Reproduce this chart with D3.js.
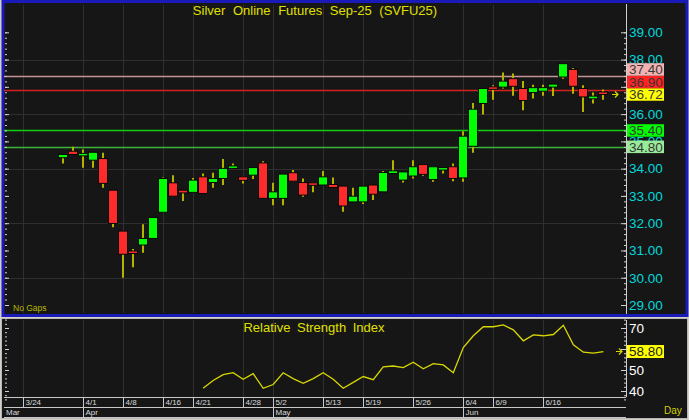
<!DOCTYPE html>
<html>
<head>
<meta charset="utf-8">
<script src="https://cdn.jsdelivr.net/npm/d3@7/dist/d3.min.js"></script>
<style>
  body { margin: 0; background: #d4d0c8; }
  svg { display: block; font-family: "Liberation Sans", Arial, sans-serif; }
</style>
</head>
<body>
<script>
// bars are numbered by session slot on the axis; slots 0-3 have no trading
var firstBar = 4;
var opens  = [34.40,34.64,34.48,34.31,34.37,33.21,31.71,30.98,31.20,31.44,32.40,33.48,33.21,33.13,33.70,33.49,33.64,34.01,33.70,33.76,34.21,32.91,32.91,33.85,33.49,33.48,33.40,33.42,33.36,32.78,32.78,33.40,33.15,33.82,33.58,33.73,34.15,33.60,33.95,34.07,33.66,34.82,36.39,37.00,36.99,37.30,36.94,36.79,36.84,36.99,37.36,37.64,36.94,36.56,36.81];
var highs  = [34.52,34.80,34.70,34.60,34.58,33.21,31.71,31.05,31.96,32.21,33.68,33.76,33.21,33.66,33.82,33.85,34.35,34.19,33.70,34.04,34.27,33.48,33.80,33.95,33.64,33.48,33.91,33.68,33.36,33.30,33.36,33.40,33.91,34.31,33.88,34.31,34.15,34.07,34.04,34.19,35.37,36.41,36.94,37.06,37.53,37.49,37.21,37.08,37.08,37.10,37.85,37.69,37.06,36.79,36.90];
var lows   = [34.19,34.52,34.03,34.03,33.30,31.85,30.00,30.38,30.92,31.42,32.40,32.99,32.81,33.13,33.09,33.30,33.40,34.01,33.46,33.62,32.91,32.66,32.66,33.54,32.97,33.13,33.40,33.31,32.42,32.78,32.70,32.85,33.15,33.82,33.49,33.64,33.74,33.52,33.82,33.54,33.52,34.58,35.99,36.53,36.94,36.67,36.14,36.57,36.67,36.66,37.30,36.75,36.08,36.39,36.53];
var closes = [34.52,34.52,34.56,34.60,33.46,31.99,30.86,30.92,31.44,32.21,33.64,32.99,33.11,33.58,33.09,33.64,34.01,34.10,33.57,34.04,32.91,33.15,33.80,33.54,33.03,33.40,33.70,33.31,32.63,32.99,33.36,33.06,33.86,33.92,33.88,34.07,33.79,34.07,34.04,33.64,35.19,36.18,36.94,36.94,37.21,37.02,36.50,36.97,36.97,37.10,37.85,37.02,36.63,36.66,36.72];

// RSI line, from slot 18
var rsiFirstBar = 18;
var rsiValues = [41.3,45.0,47.8,48.7,45.6,48.3,41.3,43.1,48.7,45.9,43.7,45.9,48.7,45.6,41.3,44.1,46.9,45.4,51.5,51.9,51.1,53.7,50.6,53.0,52.4,48.7,60.7,66.3,70.6,70.6,71.5,69.1,63.9,66.7,66.3,66.9,71.3,62.0,58.5,58.0,58.8];

// horizontal price lines
var levelValues = [37.40, 36.90, 36.72, 35.40, 34.80];
var levelLine   = ["#c49494", "#d42222", null, "#10d010", "#3cb43c"];
var levelBox    = ["#f2b2b2", "#ff2222", "#ffff00", "#00ff00", "#98ec98"];

// axis labels (37.00 and 60 sit fully under the value boxes, so they are not shown)
var dayTicks    = ["3/24","4/1","4/8","4/16","4/21","4/28","5/2","5/13","5/19","5/26","6/4","6/9","6/16"];
var dayTickBars = [0, 6, 10, 14, 17, 22, 25, 30, 34, 39, 44, 47, 52];
var monthNames  = ["Mar","Apr","May","Jun"];
var monthBars   = [null, 6, 25, 44];
var priceTicks  = [29,30,31,32,33,34,35,36,37,38,39];
var priceLabels = [29,30,31,32,33,34,35,36,38,39];
var rsiTicks    = [40,50,60,70];
var rsiLabels   = [40,50,70];

var width = 689, height = 420;
var plotLeft = 4, plotRight = 626;

var svg = d3.select("body")
  .append("svg")
    .attr("width", width)
    .attr("height", height);

svg.append("rect").attr("width", width).attr("height", height).attr("fill", "#d4d0c8");

// panels
svg.append("rect")
  .attr("x", 3).attr("y", 1.5).attr("width", 684).attr("height", 314)
  .attr("fill", "#161616").attr("stroke", "#1a1ab8").attr("stroke-width", 3);
svg.append("rect")
  .attr("x", 1.5).attr("y", 318.5).attr("width", 686).attr("height", 100)
  .attr("fill", "#161616").attr("stroke", "#b8b8b8").attr("stroke-width", 1);

var x = d3.scaleLinear().domain([-1.9, 60.26]).range([plotLeft, plotRight]);
var y = d3.scaleLinear().domain([29, 39]).range([305, 32.3]);
var yR = d3.scaleLinear().domain([40, 70]).range([391, 328]);

// grid
var grid = svg.append("g").attr("stroke", "#2f2f2f").attr("stroke-width", 1);
dayTickBars.forEach(function(b) {
  var gx = Math.round(x(b)) + 0.5;
  grid.append("line").attr("x1", gx).attr("x2", gx).attr("y1", 5).attr("y2", 313);
  grid.append("line").attr("x1", gx).attr("x2", gx).attr("y1", 320).attr("y2", 397);
});
[30, 32, 34, 36, 38].forEach(function(v) {
  var gy = Math.round(y(v)) + 0.5;
  grid.append("line").attr("x1", plotLeft).attr("x2", plotRight).attr("y1", gy).attr("y2", gy);
});

// level lines
levelValues.forEach(function(v, i) {
  if (!levelLine[i]) return;
  var ly = Math.round(y(v)) + 0.5;
  svg.append("line")
    .attr("x1", plotLeft).attr("x2", plotRight).attr("y1", ly).attr("y2", ly)
    .attr("stroke", levelLine[i]).attr("stroke-width", 1.4);
});

// candles
var candles = opens.map(function(o, i) {
  return {bar: firstBar + i, o: o, h: highs[i], l: lows[i], c: closes[i]};
});
var cg = svg.append("g");
cg.selectAll("line.wick")
  .data(candles).enter()
  .append("line")
    .attr("class", "wick")
    .attr("x1", function(d) { return Math.round(x(d.bar)); })
    .attr("x2", function(d) { return Math.round(x(d.bar)); })
    .attr("y1", function(d) { return y(d.h); })
    .attr("y2", function(d) { return y(d.l); })
    .attr("stroke", "#b4b400")
    .attr("stroke-width", 2);
cg.selectAll("rect.body")
  .data(candles).enter()
  .append("rect")
    .attr("class", "body")
    .attr("x", function(d) { return Math.round(x(d.bar)) - 4.5; })
    .attr("y", function(d) { return y(Math.max(d.o, d.c)); })
    .attr("width", 9)
    .attr("height", function(d) { return Math.max(2.5, Math.abs(y(d.o) - y(d.c))); })
    .attr("fill", function(d) { return d.c >= d.o ? "#00ff00" : "#ff2a2a"; })
    .attr("stroke", "#080808")
    .attr("stroke-width", 1);

// last price marker
var lastY = y(closes[closes.length - 1]);
svg.append("path")
  .attr("d", "M612," + lastY + "h6m-3,-3l3,3l-3,3")
  .attr("stroke", "#d8d800").attr("fill", "none").attr("stroke-width", 1.2);

// price axis
function tickAxis(g, axis) {
  g.call(axis);
  g.select(".domain").remove();
  g.selectAll("line").attr("stroke", "#d0d0d0");
}
var pa = svg.append("g").attr("transform", "translate(" + plotRight + ",0)");
tickAxis(pa.append("g"), d3.axisLeft(y).tickValues(d3.range(29, 39.001, 0.2)).tickSize(2).tickFormat(""));
tickAxis(pa.append("g"), d3.axisLeft(y).tickValues(priceTicks).tickSize(5).tickFormat(""));
var la = svg.append("g").attr("transform", "translate(5,0)");
tickAxis(la.append("g"), d3.axisRight(y).tickValues(d3.range(29, 39.001, 0.2)).tickSize(2).tickFormat(""));
tickAxis(la.append("g"), d3.axisRight(y).tickValues(priceTicks).tickSize(4).tickFormat(""));
svg.append("line").attr("x1", plotRight + 0.5).attr("x2", plotRight + 0.5).attr("y1", 4).attr("y2", 314)
  .attr("stroke", "#d0d0d0");

var labels = svg.append("g").attr("transform", "translate(" + plotRight + ",0)")
  .call(d3.axisRight(y).tickValues(priceLabels).tickSize(0).tickPadding(3).tickFormat(d3.format(".2f")));
labels.select(".domain").remove();
labels.selectAll("text").attr("fill", "#00d8dc").style("font-size", "13.5px")
  .style("font-family", "'Liberation Sans', Arial, sans-serif");

// level boxes, stacked upward so they don't overlap
var boxH = 12.5;
var order = levelValues.map(function(v, i) { return i; }).sort(function(a, b) { return levelValues[a] - levelValues[b]; });
var prevTop = Infinity;
order.forEach(function(i) {
  var cy = y(levelValues[i]);
  if (cy + boxH / 2 > prevTop) cy = prevTop - boxH / 2;
  prevTop = cy - boxH / 2;
  svg.append("rect")
    .attr("x", 627).attr("y", cy - boxH / 2).attr("width", 37).attr("height", boxH)
    .attr("fill", levelBox[i]);
  svg.append("text")
    .attr("x", 629).attr("y", cy).attr("dy", "0.36em")
    .attr("fill", "#383838").style("font-size", "13.5px")
    .text(levelValues[i].toFixed(2));
});

// titles
svg.append("text")
  .attr("x", 315).attr("y", 15).attr("text-anchor", "middle")
  .attr("fill", "#e0e000").style("font-size", "13px").style("word-spacing", "4px")
  .text("Silver Online Futures Sep-25 (SVFU25)");
svg.append("text")
  .attr("x", 13).attr("y", 311)
  .attr("fill", "#b8b800").style("font-size", "8.5px")
  .text("No Gaps");

// RSI panel
svg.append("text")
  .attr("x", 314).attr("y", 332).attr("text-anchor", "middle")
  .attr("fill", "#e0e000").style("font-size", "13px").style("word-spacing", "3px")
  .text("Relative Strength Index");

var rsiLine = d3.line()
  .x(function(d, i) { return x(rsiFirstBar + i); })
  .y(function(d) { return yR(d); });
svg.append("path")
  .datum(rsiValues)
  .attr("d", rsiLine)
  .attr("fill", "none")
  .attr("stroke", "#d8d800")
  .attr("stroke-width", 1.3);

var ra = svg.append("g").attr("transform", "translate(" + plotRight + ",0)");
tickAxis(ra.append("g"), d3.axisLeft(yR).tickValues(d3.range(36, 74.01, 2)).tickSize(2).tickFormat(""));
tickAxis(ra.append("g"), d3.axisLeft(yR).tickValues(rsiTicks).tickSize(5).tickFormat(""));
var rl = svg.append("g").attr("transform", "translate(5,0)");
tickAxis(rl.append("g"), d3.axisRight(yR).tickValues(d3.range(36, 74.01, 2)).tickSize(2).tickFormat(""));
tickAxis(rl.append("g"), d3.axisRight(yR).tickValues(rsiTicks).tickSize(4).tickFormat(""));
svg.append("line").attr("x1", plotRight + 0.5).attr("x2", plotRight + 0.5).attr("y1", 320).attr("y2", 397)
  .attr("stroke", "#d0d0d0");

var rlab = svg.append("g").attr("transform", "translate(" + plotRight + ",0)")
  .call(d3.axisRight(yR).tickValues(rsiLabels).tickSize(0).tickPadding(3));
rlab.select(".domain").remove();
rlab.selectAll("text").attr("fill", "#ffffff").style("font-size", "13.5px")
  .style("font-family", "'Liberation Sans', Arial, sans-serif");

var lastR = yR(rsiValues[rsiValues.length - 1]);
svg.append("rect").attr("x", 627).attr("y", lastR - 6.5).attr("width", 37).attr("height", 13).attr("fill", "#ffff00");
svg.append("text").attr("x", 629).attr("y", lastR).attr("dy", "0.36em")
  .attr("fill", "#202020").style("font-size", "13.5px")
  .text(rsiValues[rsiValues.length - 1].toFixed(2));
svg.append("path")
  .attr("d", "M616," + lastR + "h6m-3,-3l3,3l-3,3")
  .attr("stroke", "#d8d800").attr("fill", "none").attr("stroke-width", 1.2);

// date axis rows
var ax = svg.append("g").attr("stroke", "#c8c8c8").attr("stroke-width", 1);
ax.append("line").attr("x1", plotLeft).attr("x2", plotRight).attr("y1", 397.5).attr("y2", 397.5);
ax.append("line").attr("x1", plotLeft).attr("x2", plotRight).attr("y1", 407.5).attr("y2", 407.5);
ax.append("line").attr("x1", plotLeft).attr("x2", plotRight).attr("y1", 417.5).attr("y2", 417.5);
dayTickBars.forEach(function(b, i) {
  var tx = Math.round(x(b)) + 0.5;
  ax.append("line").attr("x1", tx).attr("x2", tx).attr("y1", 397.5).attr("y2", 407.5);
  svg.append("text").attr("x", tx + 2).attr("y", 405)
    .attr("fill", "#dcdcdc").style("font-size", "8px").text(dayTicks[i]);
});
monthNames.forEach(function(m, i) {
  var mx = monthBars[i] === null ? plotLeft : Math.round(x(monthBars[i])) + 0.5;
  if (monthBars[i] !== null)
    ax.append("line").attr("x1", mx).attr("x2", mx).attr("y1", 407.5).attr("y2", 417.5);
  svg.append("text").attr("x", mx + 2).attr("y", 415)
    .attr("fill", "#dcdcdc").style("font-size", "8px").text(m);
});
svg.append("text").attr("x", 664).attr("y", 414)
  .attr("fill", "#d0d000").style("font-size", "10px").text("Day");
</script>
</body>
</html>
